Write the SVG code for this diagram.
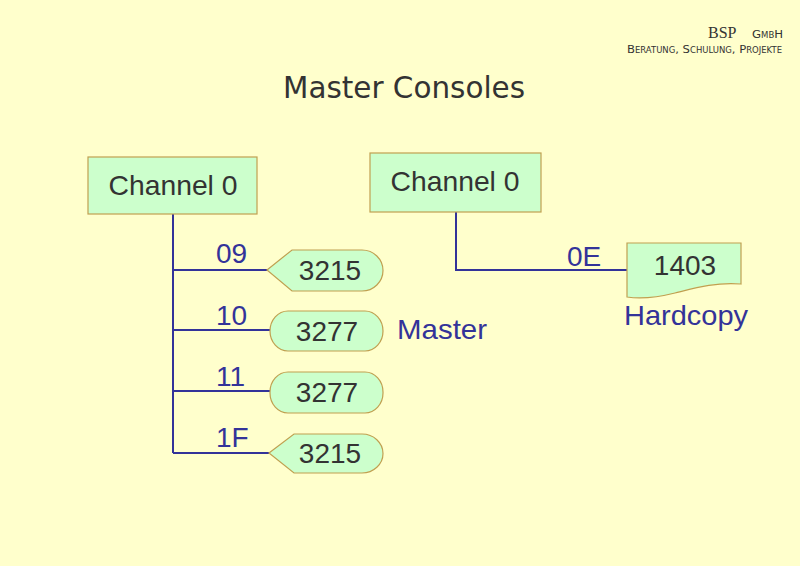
<svg xmlns="http://www.w3.org/2000/svg" width="800" height="566" viewBox="0 0 800 566">
<style>
.box{fill:#CCFFCC;stroke:#C0A050;stroke-width:1.2}
.nt{font-family:"Liberation Sans",Arial,sans-serif;font-size:28px;fill:#333333;text-anchor:middle}
.lb{font-family:"Liberation Sans",Arial,sans-serif;font-size:28px;fill:#333399}
.ln{stroke:#333399;stroke-width:2;fill:none}
</style>
<rect width="800" height="566" fill="#FFFFCC"/>
<g id="logo" font-family="'DejaVu Sans',sans-serif" fill="#333333">
<text x="708" y="38" font-size="16" font-family="'Liberation Serif',serif">BSP</text>
<text x="752" y="38" font-size="11" style="font-variant:small-caps" textLength="31" lengthAdjust="spacingAndGlyphs">GmbH</text>
<text x="627" y="53" font-size="11" style="font-variant:small-caps" textLength="155" lengthAdjust="spacingAndGlyphs">Beratung, Schulung, Projekte</text>
</g>
<text id="title" x="283" y="98" font-family="'DejaVu Sans',sans-serif" font-size="30" fill="#333333" textLength="242" lengthAdjust="spacingAndGlyphs">Master Consoles</text>
<g id="connectors">
<path class="ln" d="M173,214 V453 M173,270 H268 M173,330 H270 M173,391 H270 M173,453 H269"/>
<path class="ln" d="M456,212 V270 H628"/>
</g>
<g id="labels">
<text class="lb" x="216" y="263">09</text>
<text class="lb" x="216" y="325">10</text>
<text class="lb" x="216" y="386">11</text>
<text class="lb" x="216" y="447">1F</text>
<text class="lb" x="567" y="266">0E</text>
<text class="lb" x="397" y="339" textLength="90" lengthAdjust="spacingAndGlyphs">Master</text>
<text class="lb" x="624" y="325" textLength="124" lengthAdjust="spacingAndGlyphs">Hardcopy</text>
</g>
<g id="ch0a">
<rect class="box" x="88" y="157" width="169" height="57"/>
<text class="nt" x="173" y="195" textLength="129" lengthAdjust="spacingAndGlyphs">Channel 0</text>
</g>
<g id="ch0b">
<rect class="box" x="370" y="153" width="171" height="59"/>
<text class="nt" x="455" y="191" textLength="129" lengthAdjust="spacingAndGlyphs">Channel 0</text>
</g>
<g id="d1">
<path class="box" d="M267,270 L292,250 L362,250 A21,20.5 0 0 1 362,291 L292,291 Z"/>
<text class="nt" x="330" y="280">3215</text>
</g>
<g id="t1">
<rect class="box" x="270" y="311" width="113" height="40" rx="18" ry="20"/>
<text class="nt" x="327" y="341">3277</text>
</g>
<g id="t2">
<rect class="box" x="270" y="372" width="113" height="41" rx="18" ry="20"/>
<text class="nt" x="327" y="402">3277</text>
</g>
<g id="d2">
<path class="box" d="M269,453 L294,434 L362,434 A21,19.5 0 0 1 362,473 L294,473 Z"/>
<text class="nt" x="330" y="463">3215</text>
</g>
<g id="doc">
<path class="box" d="M627,243 L741,243 L741,284 C715,282 695,288 675,293 C655,298 640,299 627,297 Z"/>
<text class="nt" x="685" y="275">1403</text>
</g>
</svg>
